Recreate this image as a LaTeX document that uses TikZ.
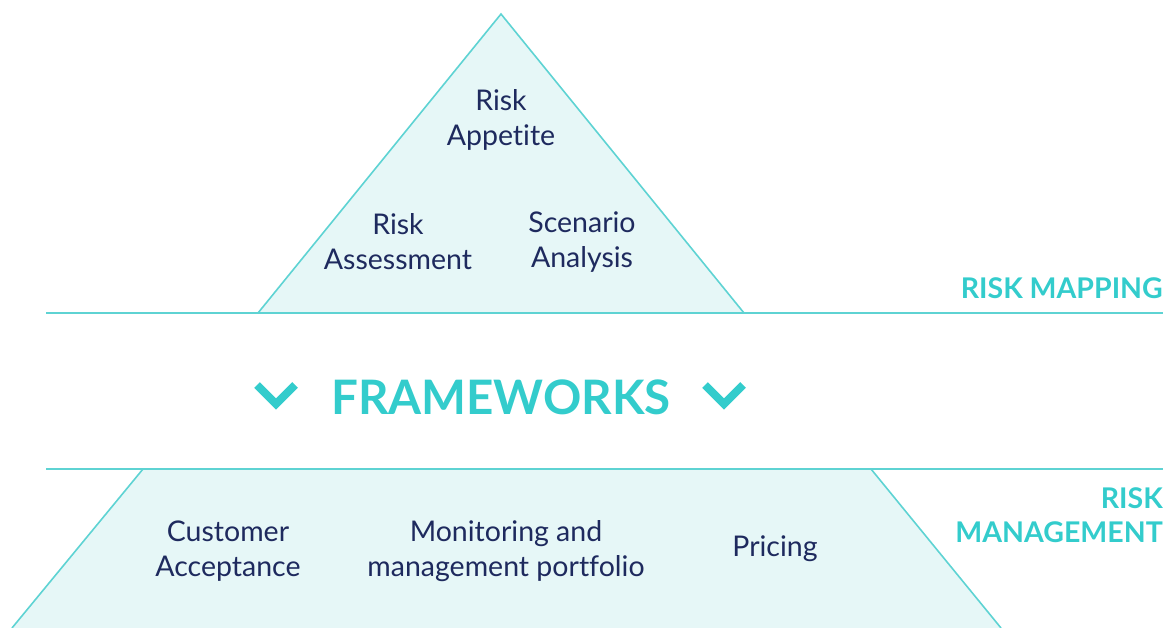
\documentclass[tikz,border=0pt]{standalone}
\usepackage{fontspec}
\setmainfont{Lato}[Ligatures={NoCommon}]
\definecolor{teal}{HTML}{5ED3D3}
\definecolor{tealtext}{HTML}{33CCCC}
\definecolor{fillc}{HTML}{E6F7F7}
\definecolor{navy}{HTML}{1E2A5E}
\begin{document}
\begin{tikzpicture}[x=1pt,y=-1pt,
  shapeline/.style={draw=teal,line width=1.6pt,fill=fillc,line join=miter},
  sepline/.style={draw=teal,line width=2pt},
  item/.style={text=navy,align=center,font=\fontsize{28.5}{35}\selectfont,inner sep=0pt},
  tag/.style={text=tealtext,align=right,font=\bfseries\fontsize{28.5}{34}\selectfont,inner sep=0pt},
  chev/.style={draw=tealtext,line width=8pt,line cap=butt,line join=miter}]
\useasboundingbox (0,0) rectangle (1163,628);
% top triangle
\coordinate (ta) at (501,14);
\coordinate (tl) at (258,313);
\coordinate (tr) at (744,313);
\path[shapeline] (tl) -- (ta) -- (tr) -- cycle;
% bottom trapezoid
\coordinate (bl1) at (143,469);
\coordinate (br1) at (871,469);
\coordinate (bl2) at (12,628);
\coordinate (br2) at (1001,628);
\fill[fillc] (bl2) -- (bl1) -- (br1) -- (br2) -- cycle;
\draw[teal,line width=1.6pt] (bl2) -- (bl1) -- (br1) -- (br2);
% separator lines
\coordinate (s1a) at (46,313);
\coordinate (s1b) at (1163,313);
\coordinate (s2a) at (46,469);
\coordinate (s2b) at (1163,469);
\draw[sepline] (s1a) -- (s1b);
\draw[sepline] (s2a) -- (s2b);
% texts top
\node[item] (appetite) at (501,120) {Risk\\Appetite};
\node[item] (assess) at (398,242) {Risk\\Assessment};
\node[item] (scen) at (582,242) {Scenario\\Analysis};
\node[tag,anchor=east] (rmap) at (1163,288) {RISK MAPPING};
% frameworks
\node[text=tealtext,font=\bfseries\fontsize{47.5}{50}\selectfont,inner sep=0pt] (fw) at (501,397) {FRAMEWORKS};
\coordinate (c1a) at (257,385);
\coordinate (c1b) at (276,404);
\coordinate (c1c) at (295,385);
\draw[chev] (c1a) -- (c1b) -- (c1c);
\coordinate (c2a) at (705,385);
\coordinate (c2b) at (724,404);
\coordinate (c2c) at (743,385);
\draw[chev] (c2a) -- (c2b) -- (c2c);
% bottom texts
\node[tag,anchor=east] (rman) at (1163,515) {RISK\\MANAGEMENT};
\node[item] (cust) at (228,551) {Customer\\Acceptance};
\node[item] (mon) at (506,551) {Monitoring and\\management portfolio};
\node[item] (price) at (775,549) {Pricing};
\end{tikzpicture}
\end{document}
